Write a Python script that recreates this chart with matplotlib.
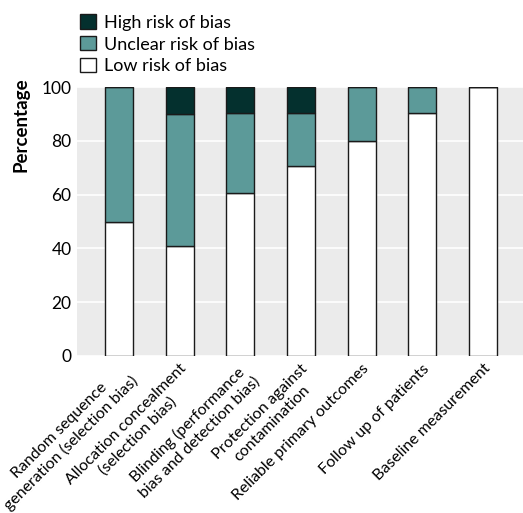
import matplotlib.pyplot as plt
import numpy as np
from matplotlib.patches import Patch

DARK = "#04302E"
TEAL = "#5C9A99"
PANEL = "#EBEBEB"

categories = [
    "Random sequence\ngeneration (selection bias)",
    "Allocation concealment\n(selection bias)",
    "Blinding (performance\nbias and detection bias)",
    "Protection against\ncontamination",
    "Reliable primary outcomes",
    "Follow up of patients",
    "Baseline measurement",
]
low = [50, 40.9, 60.6, 70.5, 80, 90.3, 100]
unclear = [50, 49.2, 29.9, 19.8, 20, 9.7, 0]
high = [0, 9.9, 9.5, 9.7, 0, 0, 0]

plt.rcParams.update({"font.family": ["Lato", "DejaVu Sans"]})

fig = plt.figure(figsize=(5.23, 5.13), dpi=100)
ax = fig.add_axes([77 / 523, 1 - 356 / 513, 446 / 523, 269 / 513])
ax.set_facecolor(PANEL)

x = np.arange(len(categories))
width = 0.46
edge = dict(edgecolor="#1a1a1a", linewidth=1.0, zorder=3)
ax.bar(x, low, width, color="white", **edge)
ax.bar(x, unclear, width, bottom=low, color=TEAL, **edge)
ax.bar(x, high, width, bottom=np.add(low, unclear), color=DARK, **edge)

ax.set_xlim(-0.69, 6.66)
ax.set_ylim(0, 100)
ax.set_yticks([0, 20, 40, 60, 80, 100])
ax.yaxis.grid(True, color="white", linewidth=1.2, zorder=0)
ax.set_axisbelow(True)
for spine in ax.spines.values():
    spine.set_visible(False)
ax.tick_params(axis="both", length=0, labelsize=12.5, pad=4)
ax.set_xticks(x)
ax.set_xticklabels(categories, rotation=45, ha="right", rotation_mode="anchor",
                   multialignment="center", fontsize=11.5)
ax.text(-0.125, 0.86, "Percentage", transform=ax.transAxes, rotation=90,
        ha="center", va="center", fontsize=13.5, fontweight="bold")

handles = [
    Patch(facecolor=DARK, edgecolor="#1a1a1a", label="High risk of bias"),
    Patch(facecolor=TEAL, edgecolor="#1a1a1a", label="Unclear risk of bias"),
    Patch(facecolor="white", edgecolor="#1a1a1a", label="Low risk of bias"),
]
fig.legend(handles=handles, loc="upper left", bbox_to_anchor=(73 / 523, 1 - 7 / 513),
           frameon=False, fontsize=13, handlelength=0.85, handleheight=0.85,
           handletextpad=0.45, labelspacing=0.3, borderaxespad=0)

fig.savefig("out.png", dpi=100)
